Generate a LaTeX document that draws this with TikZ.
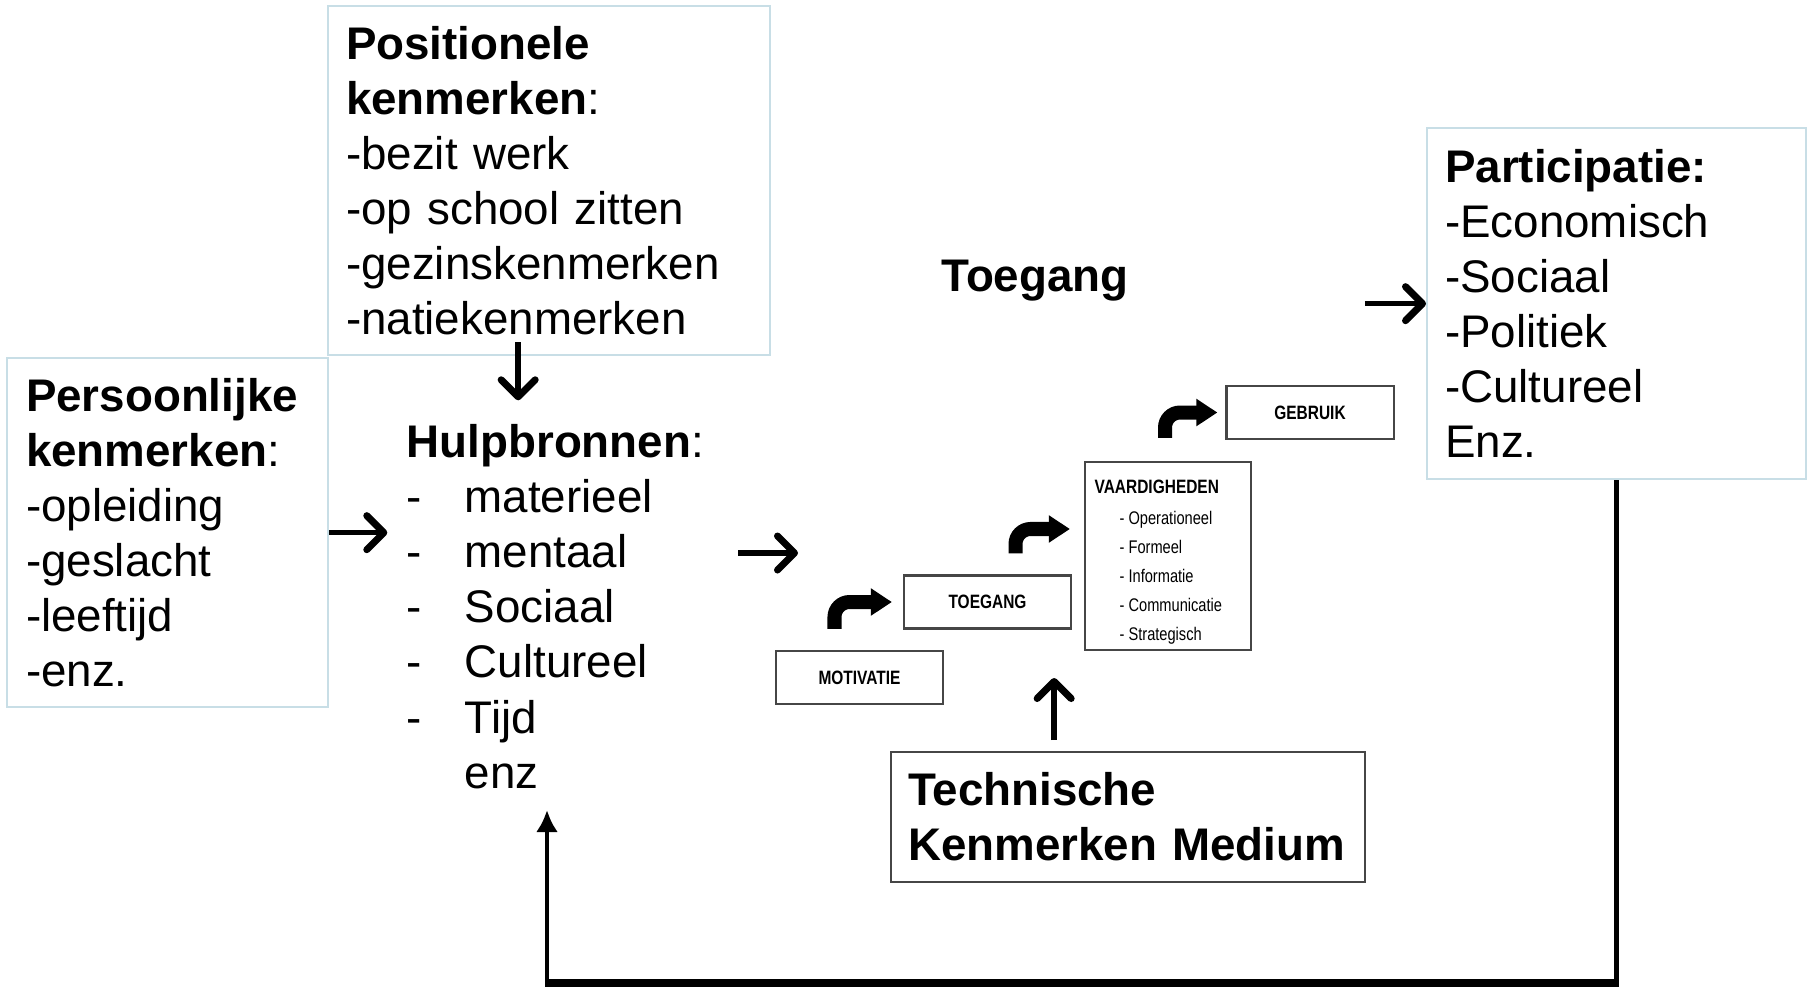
\documentclass[tikz,border=0pt]{standalone}
\usepackage{fontspec}
\setmainfont{Liberation Sans}
\newfontfamily\smalfont[FakeStretch=0.8]{Liberation Sans}
\usetikzlibrary{arrows.meta, positioning}
\definecolor{kaderblauw}{RGB}{200,222,230}
\definecolor{stapgrijs}{RGB}{70,70,70}

\begin{document}
\begin{tikzpicture}[x=0.01cm, y=-0.01cm,
  font=\fontsize{13}{15.65}\selectfont,
  kenbox/.style={draw=kaderblauw, line width=0.6pt, anchor=north west, align=left, inner ysep=0pt},
  stapbox/.style={draw=stapgrijs, line width=0.6pt, minimum width=1.67cm, minimum height=0.53cm, inner sep=0pt, font=\smalfont\fontsize{5.5}{6.5}\selectfont\bfseries},
  pijl/.style={line width=0.055cm, -{Straight Barb[length=0.17cm, width=0.34cm, round, line width=0.07cm]}},
  bochtpijl/.style={line width=0.14cm, rounded corners=0.15cm, -{Triangle[length=0.21cm, width=0.26cm]}},
  terugpijl/.style={line width=0.045cm, -{Latex[length=0.22cm, width=0.22cm]}}]
\useasboundingbox (0,0) rectangle (1810,987);

\node[kenbox, minimum width=4.42cm, minimum height=3.49cm, text width=4.06cm, inner xsep=0.18cm] (positioneel) at (327,5) {\textbf{Positionele}\\\textbf{kenmerken}:\\-bezit werk\\-op school zitten\\-gezinskenmerken\\-natiekenmerken};
\node[kenbox, minimum width=3.21cm, minimum height=3.49cm, text width=2.83cm, inner xsep=0.19cm] (persoonlijk) at (6,357) {\textbf{Persoonlijke}\\\textbf{kenmerken}:\\-opleiding\\-geslacht\\-leeftijd\\-enz.};
\node[kenbox, minimum width=3.79cm, minimum height=3.51cm, text width=3.43cm, inner xsep=0.18cm] (participatie) at (1426,127) {\textbf{Participatie:}\\-Economisch\\-Sociaal\\-Politiek\\-Cultureel\\Enz.};

\node[anchor=north west, align=left, inner sep=0pt] (hulp) at (406,424) {\textbf{Hulpbronnen}:\\\makebox[0.58cm][l]{-}materieel\\\makebox[0.58cm][l]{-}mentaal\\\makebox[0.58cm][l]{-}Sociaal\\\makebox[0.58cm][l]{-}Cultureel\\\makebox[0.58cm][l]{-}Tijd\\\makebox[0.58cm][l]{}enz};

\node[anchor=base, font=\fontsize{13}{15.65}\selectfont\bfseries] (toegangkop) at (1035,291) {Toegang};

\node[draw=stapgrijs, line width=0.6pt, anchor=north west, align=left, minimum width=4.74cm, minimum height=1.30cm, text width=4.4cm, inner xsep=0.17cm, inner ysep=0pt, font=\fontsize{13}{15.65}\selectfont\bfseries] (techniek) at (890,751) {Technische\\Kenmerken Medium};

\node[stapbox] (motivatie) at (859.5,677.5) {MOTIVATIE};
\node[stapbox] (toegang) at (987.5,602) {TOEGANG};
\node[stapbox, minimum width=1.66cm, minimum height=1.88cm] (vaardig) at (1168,556) {};
\node[anchor=north west, align=left, inner sep=0pt, font=\smalfont\fontsize{5.2}{8.2}\selectfont] (vaardigtekst) at ([xshift=0.10cm, yshift=-0.18cm]vaardig.north west) {\textbf{\fontsize{5.5}{6.5}\selectfont VAARDIGHEDEN}\\[0.03cm]\hspace*{0.25cm}- Operationeel\\\hspace*{0.25cm}- Formeel\\\hspace*{0.25cm}- Informatie\\\hspace*{0.25cm}- Communicatie\\\hspace*{0.25cm}- Strategisch};
\node[stapbox] (gebruik) at (1310,412.5) {GEBRUIK};

\draw[pijl] (persoonlijk.east) -- ++(58,0);
\coordinate (hulpuit) at (738,553);
\draw[pijl] (hulpuit) -- ++(60,0);
\draw[pijl] ([xshift=-0.31cm, yshift=0.14cm]positioneel.south) -- ++(0,58);
\draw[pijl] ([xshift=-0.61cm]participatie.west) -- (participatie.west);
\draw[pijl] ([xshift=-0.74cm, yshift=0.11cm]techniek.north) -- ++(0,-62);

\draw[bochtpijl] ([xshift=-0.25cm, yshift=0.21cm]motivatie.north) |- ([xshift=-0.11cm]toegang.west);
\draw[bochtpijl] ([xshift=0.28cm, yshift=0.21cm]toegang.north) |- ([xshift=-0.14cm, yshift=0.27cm]vaardig.west);
\draw[bochtpijl] ([xshift=-0.03cm, yshift=0.23cm]vaardig.north) |- ([xshift=-0.08cm]gebruik.west);

\coordinate (terugin) at (547,810);
\draw[terugpijl] (participatie.south) -- ++(0,504) -| (terugin);
\draw[line width=0.065cm] (participatie.south |- 0,982) -- (terugin |- 0,982);

\end{tikzpicture}
\end{document}
